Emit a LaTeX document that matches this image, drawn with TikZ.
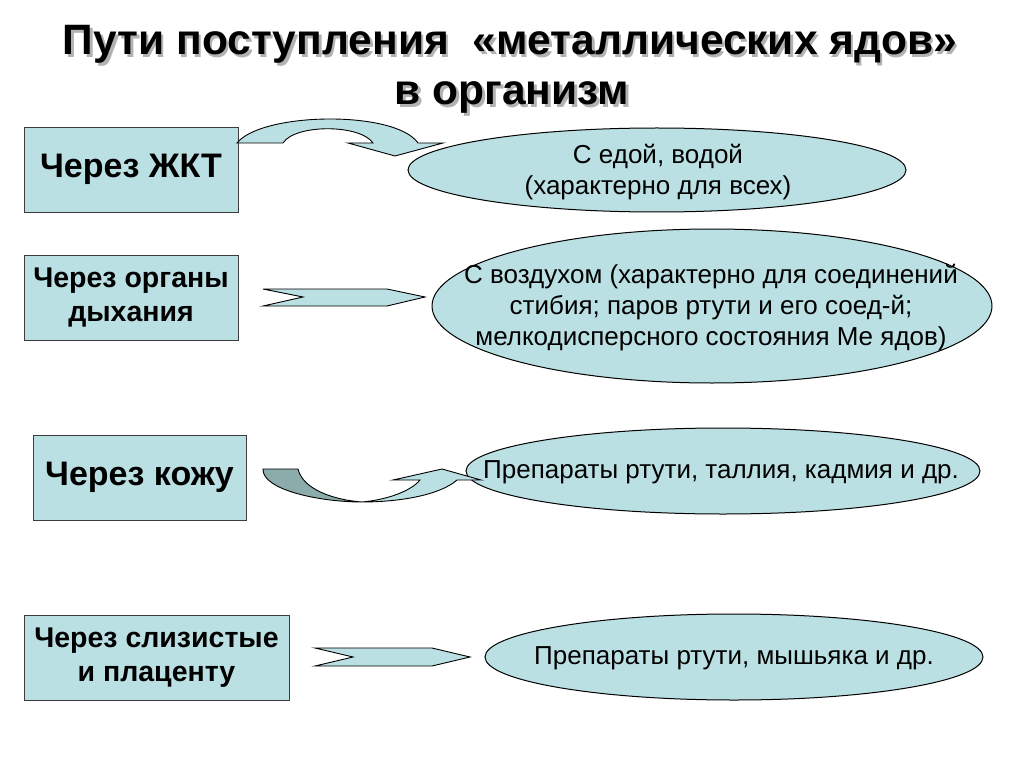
\documentclass[tikz,border=0pt]{standalone}
\usepackage{fontspec}
\setmainfont{Liberation Sans}
\usetikzlibrary{shapes.geometric}
\definecolor{boxfill}{RGB}{187,224,227}
\definecolor{darkfill}{RGB}{140,172,172}
\definecolor{edge}{RGB}{60,60,60}
\tikzset{
  box/.style={draw=edge, line width=0.9pt, fill=boxfill, inner sep=0pt, align=center,
    font=\bfseries\fontsize{34}{40}\selectfont},
  boxsmall/.style={font=\bfseries\fontsize{28.5}{34}\selectfont},
  oval/.style={draw=black, line width=1pt, fill=boxfill, ellipse, inner sep=0pt},
  ovaltext/.style={align=center, font=\fontsize{26}{31}\selectfont, inner sep=0pt},
  blockarrow/.style={draw=black, line width=0.9pt, fill=boxfill, line join=miter},
  ttl/.style={font=\bfseries\fontsize{42.5}{50}\selectfont, inner sep=0pt, anchor=base}
}
\begin{document}
\begin{tikzpicture}[x=1pt,y=-1pt]
\useasboundingbox (0,0) rectangle (1024,767);
% title
\node[ttl, text=black!30] at (512.5,57.5) {Пути поступления \ «металлических ядов»};
\node[ttl] (t1) at (510,55) {Пути поступления \ «металлических ядов»};
\node[ttl, text=black!30] at (514.5,107.5) {в организм};
\node[ttl] (t2) at (512,105) {в организм};

% boxes
\node[box, minimum width=214, minimum height=85] (b1) at (131,169.5) {Через ЖКТ};
\node[box, boxsmall, minimum width=214, minimum height=85] (b2) at (131,297.5) {Через органы\\дыхания};
\node[box, minimum width=213, minimum height=85] (b3) at (139.5,477.5) {Через кожу};
\node[box, boxsmall, minimum width=265, minimum height=85] (b4) at (156.5,657.5) {Через слизистые\\и плаценту};

% ellipses
\node[oval, minimum width=498, minimum height=84] (e1) at (657,170) {};
\node[oval, minimum width=560, minimum height=154] (e2) at (712,306) {};
\node[oval, minimum width=514, minimum height=86] (e3) at (723,471) {};
\node[oval, minimum width=498, minimum height=86] (e4) at (734,657) {};
\node[ovaltext] at (658,172) {С едой, водой\\(характерно для всех)};
\node[ovaltext] at (711,308) {С воздухом (характерно для соединений\\стибия; паров ртути и его соед-й;\\мелкодисперсного состояния Ме ядов)};
\node[ovaltext] at (721,472) {Препараты ртути, таллия, кадмия и др.};
\node[ovaltext] at (734,658) {Препараты ртути, мышьяка и др.};

% arrow 1 (curved over)
\draw[blockarrow] (237,143) .. controls (262,112) and (395,110) .. (418,143)
  -- (443,143) -- (395,156) -- (348,143) -- (373,143)
  .. controls (360,124) and (295,124) .. (283,143) -- cycle;

% arrow 2 (straight notched)
\draw[blockarrow] (263,289) -- (387,289) -- (425,297) -- (387,306) -- (263,306) -- (303,297) -- cycle;

% arrow 3 (curved under, ribbon)
\draw[blockarrow, fill=darkfill] (263,469) -- (298,469)
  .. controls (303,490) and (335,500) .. (362,502)
  .. controls (320,502) and (262,490) .. cycle;
\draw[blockarrow] (362,502) .. controls (400,502) and (440,495) .. (457,480)
  -- (481,480) -- (442,469) -- (393,480) -- (420,480)
  .. controls (410,492) and (385,500) .. (362,502) -- cycle;

% arrow 4 (straight notched)
\draw[blockarrow] (315,648) -- (432,648) -- (470,657) -- (432,666) -- (315,666) -- (353,657) -- cycle;
\end{tikzpicture}
\end{document}
